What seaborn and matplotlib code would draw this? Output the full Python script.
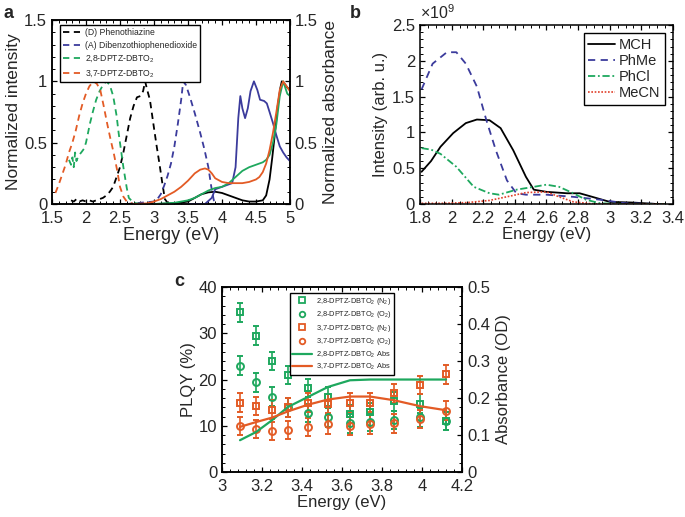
import matplotlib

matplotlib.use("Agg")
import matplotlib.pyplot as plt
import numpy as np
import seaborn as sns
from matplotlib.lines import Line2D
from matplotlib.ticker import AutoMinorLocator, FuncFormatter, MultipleLocator

sns.set_theme(style="ticks")
plt.rcParams["font.family"] = ["Liberation Sans", "DejaVu Sans"]
plt.rcParams["mathtext.fontset"] = "custom"
plt.rcParams["mathtext.rm"] = "Liberation Sans"
plt.rcParams["mathtext.default"] = "regular"
plt.rcParams["xtick.direction"] = "in"
plt.rcParams["ytick.direction"] = "in"
plt.rcParams["axes.edgecolor"] = "black"
plt.rcParams["axes.linewidth"] = 1.1

BLACK = "#000000"
BLUE = "#3b3b9c"
GREEN = "#1ea85e"
ORANGE = "#e35b25"
RED = "#e0402a"

# ---- panel a: normalized emission (dashed) and absorbance (solid) ----
pt_em_x = [1.78, 1.82, 1.86, 1.9, 1.95, 2.0, 2.05, 2.1, 2.15, 2.2, 2.25, 2.3, 2.35, 2.4,
           2.45, 2.5, 2.55, 2.6, 2.65, 2.7, 2.75, 2.8, 2.84, 2.87, 2.9, 2.94, 3.0, 3.04,
           3.08, 3.12, 3.16, 3.2, 3.3]
pt_em_y = [0.03, 0.02, 0.04, 0.02, 0.03, 0.02, 0.03, 0.02, 0.03, 0.04, 0.05, 0.07, 0.1, 0.14,
           0.22, 0.3, 0.42, 0.56, 0.7, 0.8, 0.87, 0.88, 0.92, 1.0, 0.93, 0.85, 0.62, 0.47,
           0.33, 0.18, 0.04, 0.01, 0.0]
dbto_em_x = [2.6, 2.8, 3.0, 3.05, 3.1, 3.15, 3.2, 3.25, 3.3, 3.35, 3.4, 3.43, 3.47, 3.53,
             3.6, 3.68, 3.74, 3.8, 3.84, 3.88, 3.95]
dbto_em_y = [0.0, 0.01, 0.02, 0.04, 0.08, 0.15, 0.23, 0.33, 0.47, 0.65, 0.85, 1.0, 0.97, 0.87,
             0.74, 0.58, 0.45, 0.3, 0.15, 0.03, 0.0]
em28_x = [1.75, 1.78, 1.8, 1.82, 1.84, 1.86, 1.88, 1.9, 1.93, 1.97, 2.0, 2.03, 2.06, 2.1,
          2.15, 2.2, 2.25, 2.3, 2.35, 2.4, 2.45, 2.48, 2.52, 2.55, 2.6, 2.63, 2.7, 2.8]
em28_y = [0.36, 0.32, 0.38, 0.3, 0.42, 0.35, 0.38, 0.4, 0.42, 0.45, 0.5, 0.58, 0.66, 0.75,
          0.85, 0.92, 0.97, 1.0, 0.97, 0.88, 0.72, 0.58, 0.42, 0.3, 0.13, 0.05, 0.01, 0.0]
em37_x = [1.55, 1.6, 1.65, 1.7, 1.75, 1.8, 1.85, 1.9, 1.95, 2.0, 2.05, 2.11, 2.16, 2.21,
          2.26, 2.31, 2.36, 2.41, 2.46, 2.5, 2.55, 2.6, 2.7, 2.8]
em37_y = [0.09, 0.16, 0.24, 0.32, 0.42, 0.5, 0.6, 0.72, 0.82, 0.9, 0.96, 1.0, 0.98, 0.93,
          0.8, 0.66, 0.53, 0.41, 0.27, 0.14, 0.06, 0.02, 0.0, 0.0]

pt_abs_x = [2.5, 3.0, 3.3, 3.5, 3.6, 3.7, 3.8, 3.9, 4.0, 4.1, 4.2, 4.3, 4.4, 4.5, 4.6, 4.65,
            4.7, 4.74, 4.78, 4.82, 4.86, 4.88, 4.92, 4.96, 5.0]
pt_abs_y = [0.0, 0.0, 0.005, 0.02, 0.05, 0.08, 0.095, 0.1, 0.09, 0.07, 0.05, 0.03, 0.02, 0.02,
            0.03, 0.07, 0.2, 0.38, 0.58, 0.8, 0.95, 1.0, 0.98, 0.95, 0.93]
dbto_abs_x = [3.5, 3.75, 3.85, 3.9, 4.0, 4.1, 4.15, 4.2, 4.24, 4.27, 4.3, 4.34, 4.38, 4.42,
              4.47, 4.52, 4.56, 4.62, 4.66, 4.7, 4.75, 4.8, 4.85, 4.9, 4.95, 5.0]
dbto_abs_y = [0.0, 0.0, 0.05, 0.12, 0.14, 0.16, 0.17, 0.3, 0.7, 0.88, 0.78, 0.7, 0.78, 0.92,
              1.0, 0.93, 0.85, 0.84, 0.82, 0.75, 0.66, 0.56, 0.47, 0.42, 0.38, 0.35]
abs37_x = [2.7, 2.9, 3.0, 3.1, 3.2, 3.3, 3.4, 3.5, 3.6, 3.68, 3.75, 3.8, 3.85, 3.9, 4.0,
           4.1, 4.2, 4.3, 4.4, 4.5, 4.55, 4.6, 4.65, 4.7, 4.75, 4.8, 4.85, 4.9, 4.95, 5.0]
abs37_y = [0.0, 0.005, 0.02, 0.04, 0.07, 0.1, 0.14, 0.19, 0.25, 0.28, 0.29, 0.28, 0.25, 0.21,
           0.18, 0.17, 0.17, 0.17, 0.18, 0.2, 0.22, 0.26, 0.33, 0.44, 0.58, 0.75, 0.93, 1.0,
           0.96, 0.92]
abs28_x = [3.0, 3.3, 3.4, 3.5, 3.6, 3.7, 3.8, 3.9, 4.0, 4.1, 4.2, 4.3, 4.4, 4.5, 4.6, 4.65,
           4.7, 4.75, 4.8, 4.85, 4.9, 4.93, 4.96, 5.0]
abs28_y = [0.0, 0.01, 0.02, 0.03, 0.05, 0.08, 0.11, 0.13, 0.14, 0.17, 0.22, 0.27, 0.3, 0.32,
           0.34, 0.36, 0.4, 0.5, 0.65, 0.88, 1.0, 0.95, 0.9, 0.88]

# ---- panel b: solvent emission (units of 1e9) ----
mch_x = [1.81, 1.87, 1.93, 2.01, 2.09, 2.16, 2.24, 2.31, 2.39, 2.47, 2.52, 2.6, 2.73, 2.81,
         2.89, 3.0, 3.15, 3.3, 3.35]
mch_y = [0.45, 0.6, 0.8, 0.99, 1.13, 1.18, 1.17, 1.06, 0.75, 0.38, 0.2, 0.17, 0.15, 0.15,
         0.1, 0.03, 0.02, 0.0, 0.0]
phme_x = [1.81, 1.88, 1.97, 2.03, 2.09, 2.16, 2.22, 2.28, 2.35, 2.41, 2.47, 2.6, 2.77, 2.94,
          3.1, 3.35]
phme_y = [1.6, 1.96, 2.12, 2.12, 1.96, 1.64, 1.17, 0.75, 0.33, 0.15, 0.13, 0.13, 0.1, 0.06,
          0.01, 0.0]
phcl_x = [1.81, 1.87, 1.93, 2.03, 2.14, 2.24, 2.3, 2.41, 2.52, 2.6, 2.68, 2.77, 2.85, 2.94,
          3.1, 3.35]
phcl_y = [0.78, 0.76, 0.7, 0.52, 0.24, 0.15, 0.13, 0.2, 0.24, 0.27, 0.24, 0.15, 0.06, 0.01,
          0.0, 0.0]
mecn_x = [1.81, 1.95, 2.1, 2.24, 2.39, 2.47, 2.6, 2.68, 2.77, 2.9, 3.35]
mecn_y = [0.01, 0.01, 0.02, 0.05, 0.12, 0.16, 0.17, 0.1, 0.03, 0.0, 0.0]

# ---- panel c: PLQY vs excitation energy ----
exc_e = [3.09, 3.17, 3.25, 3.33, 3.43, 3.53, 3.64, 3.74, 3.86, 3.99, 4.12]
plqy28_n2 = [34.5, 29.5, 24.0, 21.0, 18.2, 16.3, 12.5, 13.0, 15.3, 14.8, 11.0]
plqy28_o2 = [23.0, 19.4, 16.3, 14.0, 12.8, 11.8, 10.5, 10.8, 11.2, 11.8, 11.0]
plqy37_n2 = [15.0, 14.3, 13.5, 14.0, 15.0, 14.8, 15.0, 15.0, 17.0, 18.8, 21.1]
plqy37_o2 = [10.0, 9.3, 8.9, 9.1, 9.7, 10.3, 10.0, 10.3, 10.5, 11.5, 13.3]
plqy_err = [2.0, 2.0, 2.0, 2.0, 2.0, 2.0, 2.0, 2.0, 2.0, 2.0, 2.0]
abs28_od = [0.086, 0.108, 0.14, 0.176, 0.203, 0.23, 0.248, 0.25, 0.25, 0.25, 0.25]
abs37_od = [0.122, 0.135, 0.147, 0.164, 0.182, 0.196, 0.204, 0.204, 0.194, 0.178, 0.167]

fig = plt.figure(figsize=(6.85, 5.17), dpi=100)
plain = FuncFormatter(lambda v, p: f"{v:g}")


def style_axes(ax, xminor, yminor, right=True, size=11.5):
    ax.xaxis.set_minor_locator(AutoMinorLocator(xminor))
    ax.yaxis.set_minor_locator(AutoMinorLocator(yminor))
    ax.tick_params(which="both", top=True, right=right, labelsize=size, color="black")
    ax.tick_params(which="major", length=3.5, width=0.9)
    ax.tick_params(which="minor", length=2, width=0.7)
    ax.tick_params(axis="x", pad=5)
    for s in ax.spines.values():
        s.set_visible(True)
        s.set_color("black")


# a ------------------------------------------------------------------------- #
ax_a = fig.add_axes([0.0759, 0.6054, 0.3474, 0.3559])
dash = (0, (3.5, 2.5))
em_series = [
    (pt_em_x, pt_em_y, BLACK, "(D) Phenothiazine"),
    (dbto_em_x, dbto_em_y, BLUE, "(A) Dibenzothiophenedioxide"),
    (em28_x, em28_y, GREEN, "2,8-DPTZ-DBTO$_2$"),
    (em37_x, em37_y, ORANGE, "3,7-DPTZ-DBTO$_2$"),
]
for x, y, c, lab in em_series:
    sns.lineplot(x=x, y=y, ax=ax_a, color=c, linestyle=dash, lw=1.3, label=lab,
                 sort=False, estimator=None)
ax_a2 = ax_a.twinx()
for x, y, c in [(pt_abs_x, pt_abs_y, BLACK), (dbto_abs_x, dbto_abs_y, BLUE),
                (abs28_x, abs28_y, GREEN), (abs37_x, abs37_y, ORANGE)]:
    sns.lineplot(x=x, y=y, ax=ax_a2, color=c, lw=1.3, sort=False, estimator=None)
for ax in (ax_a, ax_a2):
    ax.set_xlim(1.5, 5)
    ax.set_ylim(0, 1.5)
    ax.yaxis.set_major_locator(MultipleLocator(0.5))
    ax.yaxis.set_major_formatter(plain)
    ax.xaxis.set_major_formatter(plain)
ax_a.xaxis.set_major_locator(MultipleLocator(0.5))
style_axes(ax_a, 5, 5, right=False, size=12)
style_axes(ax_a2, 5, 5, size=12)
ax_a2.tick_params(which="both", left=False)
ax_a.set_xlabel("Energy (eV)", fontsize=13, labelpad=1)
ax_a.set_ylabel("Normalized intensity", fontsize=12.5, labelpad=2)
ax_a2.set_ylabel("Normalized absorbance", fontsize=12.5, labelpad=4)
leg = ax_a.legend(loc="upper left", bbox_to_anchor=(0.015, 0.995), fontsize=6.2,
                  frameon=True, fancybox=False, edgecolor="black", framealpha=1,
                  handlelength=2.0, labelspacing=0.42, borderpad=0.35, handletextpad=0.6)
leg.get_frame().set_linewidth(1.0)

# b ------------------------------------------------------------------------- #
ax_b = fig.add_axes([0.6131, 0.6054, 0.3693, 0.3462])
sns.lineplot(x=mch_x, y=mch_y, ax=ax_b, color=BLACK, lw=1.3,
             label="MCH", sort=False, estimator=None)
sns.lineplot(x=phme_x, y=phme_y, ax=ax_b, color=BLUE, lw=1.3,
             linestyle=(0, (4, 3)), label="PhMe", sort=False, estimator=None)
sns.lineplot(x=phcl_x, y=phcl_y, ax=ax_b, color=GREEN, lw=1.3,
             linestyle=(0, (4, 1.5, 1, 1.5)), label="PhCl", sort=False, estimator=None)
sns.lineplot(x=mecn_x, y=mecn_y, ax=ax_b, color=RED, lw=1.2,
             linestyle=(0, (1, 1)), label="MeCN", sort=False, estimator=None)
ax_b.set_xlim(1.8, 3.4)
ax_b.set_ylim(0, 2.5)
ax_b.xaxis.set_major_locator(MultipleLocator(0.2))
ax_b.yaxis.set_major_locator(MultipleLocator(0.5))
ax_b.xaxis.set_major_formatter(plain)
ax_b.yaxis.set_major_formatter(plain)
style_axes(ax_b, 4, 5, size=12)
ax_b.text(0.0, 1.015, r"$\times$10$^9$", transform=ax_b.transAxes, fontsize=11.5,
          ha="left", va="bottom")
ax_b.set_xlabel("Energy (eV)", fontsize=12, labelpad=1)
ax_b.set_ylabel("Intensity (arb. u.)", fontsize=12, labelpad=3)
leg = ax_b.legend(loc="upper right", bbox_to_anchor=(0.98, 0.97), fontsize=10.5,
                  frameon=True, fancybox=False, edgecolor="black", framealpha=1,
                  handlelength=1.8, labelspacing=0.15, borderpad=0.3, handletextpad=0.3,
                  borderaxespad=0.2)
leg.get_frame().set_linewidth(1.0)

# c ------------------------------------------------------------------------- #
ax_c = fig.add_axes([0.3241, 0.0870, 0.3504, 0.3578])
ebar = dict(capsize=2.2, elinewidth=1.2, capthick=1.0, markersize=5, lw=0,
            markeredgewidth=1.4)
ax_c.errorbar(exc_e, plqy28_n2, yerr=plqy_err, fmt="s", color=GREEN, mfc="none", **ebar)
ax_c.errorbar(exc_e, plqy28_o2, yerr=plqy_err, fmt="o", color=GREEN, mfc="none", **ebar)
ax_c.errorbar(exc_e, plqy37_n2, yerr=plqy_err, fmt="s", color=ORANGE, mfc="none", **ebar)
ax_c.errorbar(exc_e, plqy37_o2, yerr=plqy_err, fmt="o", color=ORANGE, mfc="none", **ebar)
ax_c2 = ax_c.twinx()
sns.lineplot(x=exc_e, y=abs28_od, ax=ax_c2, color=GREEN, lw=1.6, estimator=None)
sns.lineplot(x=exc_e, y=abs37_od, ax=ax_c2, color=ORANGE, lw=1.6, estimator=None)
ax_c.set_xlim(3, 4.2)
ax_c.set_ylim(0, 40)
ax_c2.set_ylim(0, 0.5)
ax_c.xaxis.set_major_locator(MultipleLocator(0.2))
ax_c.yaxis.set_major_locator(MultipleLocator(10))
ax_c2.yaxis.set_major_locator(MultipleLocator(0.1))
ax_c.xaxis.set_major_formatter(plain)
ax_c2.yaxis.set_major_formatter(plain)
style_axes(ax_c, 5, 5, right=False, size=12)
style_axes(ax_c2, 5, 4, size=12)
ax_c2.tick_params(which="both", left=False)
ax_c.set_xlabel("Energy (eV)", fontsize=12, labelpad=1)
ax_c.set_ylabel("PLQY (%)", fontsize=12, labelpad=2)
ax_c2.set_ylabel("Absorbance (OD)", fontsize=12, labelpad=4)
mk = dict(lw=0, markersize=4, markeredgewidth=1.3, mfc="none")
handles = [
    Line2D([], [], marker="s", color=GREEN, **mk),
    Line2D([], [], marker="o", color=GREEN, **mk),
    Line2D([], [], marker="s", color=ORANGE, **mk),
    Line2D([], [], marker="o", color=ORANGE, **mk),
    Line2D([], [], color=GREEN, lw=1.6),
    Line2D([], [], color=ORANGE, lw=1.6),
]
labels = ["2,8-DPTZ-DBTO$_2$ (N$_2$)", "2,8-DPTZ-DBTO$_2$ (O$_2$)",
          "3,7-DPTZ-DBTO$_2$ (N$_2$)", "3,7-DPTZ-DBTO$_2$ (O$_2$)",
          "2,8-DPTZ-DBTO$_2$ Abs", "3,7-DPTZ-DBTO$_2$ Abs"]
leg = ax_c2.legend(handles, labels, loc="upper center", bbox_to_anchor=(0.5, 0.985),
                   fontsize=5.3, frameon=True, fancybox=False, edgecolor="black",
                   framealpha=1, handlelength=2.6, labelspacing=0.32, borderpad=0.35,
                   handletextpad=0.6)
leg.get_frame().set_linewidth(1.0)

fig.text(0.005, 0.965, "a", fontsize=13, fontweight="bold")
fig.text(0.51, 0.965, "b", fontsize=13, fontweight="bold")
fig.text(0.255, 0.447, "c", fontsize=13, fontweight="bold")

fig.savefig("out.png", dpi=100)
